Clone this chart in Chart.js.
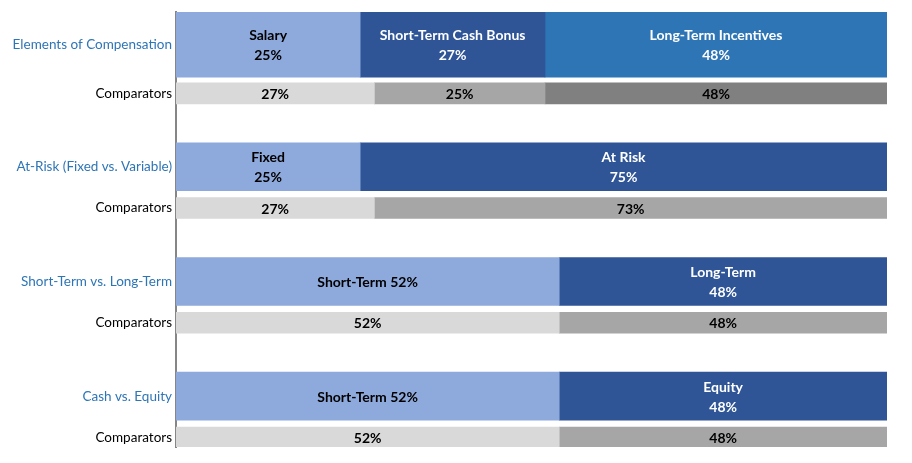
<!DOCTYPE html>
<html>
<head>
<meta charset="utf-8">
<script src="https://cdn.jsdelivr.net/npm/chart.js@4.4.1/dist/chart.umd.min.js"></script>
<style>
  html, body { margin: 0; padding: 0; background: #ffffff; }
  #wrap { width: 912px; height: 463px; }
</style>
</head>
<body>
<div id="wrap"><canvas id="payChart"></canvas></div>
<script>
// y axis labels, top to bottom
const rowNames = ['Elements of Compensation', 'Comparators', 'At-Risk (Fixed vs. Variable)', 'Comparators',
    'Short-Term vs. Long-Term', 'Comparators', 'Cash vs. Equity', 'Comparators'];

// top row: elements of compensation (bar lengths in %)
const elementValues = [25.9, 26.0, 48.1];
const elementText = [['Salary', '25%'], ['Short-Term Cash Bonus', '27%'], ['Long-Term Incentives', '48%']];

// company rows 2-4: first part / second part
const partAValues = [25.9, 53.9, 53.9];
const partBValues = [74.1, 46.1, 46.1];
const partAText = [['Fixed', '25%'], ['Short-Term 52%'], ['Short-Term 52%']];
const partBText = [['At Risk', '75%'], ['Long-Term', '48%'], ['Equity', '48%']];

// comparator rows 1-4
const compAValues = [27.9, 27.9, 53.9, 53.9];
const compBValues = [24.0, 72.1, 46.1, 46.1];
const compCValues = [48.1];
const compAText = [['27%'], ['27%'], ['52%'], ['52%']];
const compBText = [['25%'], ['73%'], ['48%'], ['48%']];
const compCText = [['48%']];

// where each row sits on the y axis (one unit per group)
const mainPos = [-0.065, 1, 2, 3];
const compPos = [0.36, 1.36, 2.36, 3.36];
const tickPos = [mainPos[0], compPos[0], mainPos[1], compPos[1], mainPos[2], compPos[2], mainPos[3], compPos[3]];

const LIGHT_BLUE = '#8EA9DB';
const DARK_BLUE = '#2F5597';
const MID_BLUE = '#2E75B6';

function makeSet(label, values, positions, color, thickness, texts, textColor) {
    return {
        label: label,
        data: values.map((v, i) => ({ x: v, y: positions[i] })),
        backgroundColor: color,
        borderWidth: 0,
        barThickness: thickness,
        stack: 'all',
        texts: texts,
        textColor: textColor
    };
}

const datasets = [
    makeSet('Salary', [elementValues[0]], [mainPos[0]], LIGHT_BLUE, 65, [elementText[0]], '#000000'),
    makeSet('Short-Term Cash Bonus', [elementValues[1]], [mainPos[0]], DARK_BLUE, 65, [elementText[1]], '#ffffff'),
    makeSet('Long-Term Incentives', [elementValues[2]], [mainPos[0]], MID_BLUE, 65, [elementText[2]], '#ffffff'),
    makeSet('Part A', partAValues, mainPos.slice(1), LIGHT_BLUE, 48, partAText, '#000000'),
    makeSet('Part B', partBValues, mainPos.slice(1), DARK_BLUE, 48, partBText, '#ffffff'),
    makeSet('Comparators A', compAValues, compPos, '#D9D9D9', 21, compAText, '#000000'),
    makeSet('Comparators B', compBValues, compPos, '#A6A6A6', 21, compBText, '#000000'),
    makeSet('Comparators C', compCValues, [compPos[0]], '#808080', 21, compCText, '#000000')
];

// writes the labels in the middle of every bar segment
const barText = {
    id: 'barText',
    afterDatasetsDraw(chart) {
        const ctx = chart.ctx;
        ctx.save();
        ctx.font = 'bold 14px Lato';
        ctx.textAlign = 'center';
        ctx.textBaseline = 'middle';
        chart.data.datasets.forEach((ds, di) => {
            const meta = chart.getDatasetMeta(di);
            meta.data.forEach((bar, i) => {
                const lines = ds.texts[i];
                if (!lines) return;
                const cx = (bar.x + bar.base) / 2;
                const top = bar.y - (lines.length - 1) * 10;
                ctx.fillStyle = ds.textColor;
                lines.forEach((t, k) => ctx.fillText(t, cx, top + k * 20 + 1));
            });
        });
        ctx.restore();
    }
};

new Chart(document.getElementById('payChart'), {
    type: 'bar',
    data: { datasets: datasets },
    plugins: [barText],
    options: {
        indexAxis: 'y',
        responsive: true,
        maintainAspectRatio: false,
        animation: false,
        layout: { padding: { top: 11, bottom: 16, right: 25, left: 0 } },
        plugins: {
            legend: { display: false },
            tooltip: { enabled: false }
        },
        scales: {
            x: { type: 'linear', min: 0, max: 100, stacked: true, display: false },
            y: {
                type: 'linear',
                reverse: true,
                offset: false,
                z: 1, // keep the axis line on top of the bars
                min: -0.348,
                max: 3.443,
                stacked: true,
                grid: { display: false, drawTicks: false, offset: false },
                border: { display: true, color: '#868686', width: 2 },
                afterBuildTicks: (s) => { s.ticks = tickPos.map(v => ({ value: v })); },
                afterFit: (s) => { s.width = 176; },
                ticks: {
                    autoSkip: false,
                    padding: 4,
                    color: (c) => (c.index % 2 === 0 ? '#2E75B6' : '#000000'),
                    font: { family: 'Lato', size: 13.5 },
                    callback: (v, i) => rowNames[i]
                }
            }
        }
    }
});
</script>
</body>
</html>
